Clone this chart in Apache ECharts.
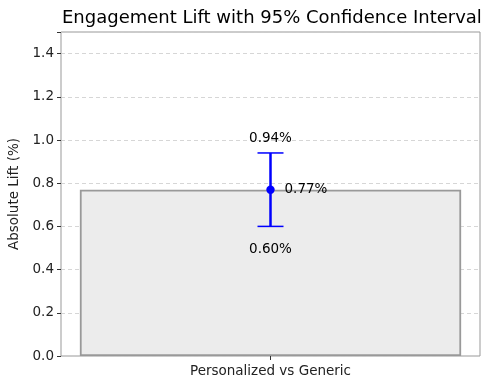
<!DOCTYPE html>
<html><head><meta charset="utf-8">
<script src="https://cdn.jsdelivr.net/npm/echarts@6/dist/echarts.min.js"></script>
<style>html,body{margin:0;padding:0;background:#fff}#c{width:490px;height:390px}</style>
</head><body><div id="c"></div>
<script>
const categories = ['Personalized vs Generic'];
const lift = [0.77];
const ciLow = [0.60];
const ciHigh = [0.94];
const yTicks = [0.0, 0.2, 0.4, 0.6, 0.8, 1.0, 1.2, 1.4];

const font = 'DejaVu Sans';
const chart = echarts.init(document.getElementById('c'));
const errData = categories.map((c, i) => [i, lift[i], ciLow[i], ciHigh[i]]);
chart.setOption({
  animation: false,
  title: {text: 'Engagement Lift with 95% Confidence Interval', left: 62, top: 9, padding: 0,
    textStyle: {fontFamily: font, fontSize: 18, fontWeight: 'normal', color: '#000'}},
  grid: {left: 61, right: 10, top: 32, bottom: 34, show: true, borderColor: '#999', borderWidth: 1,
    containLabel: false, outerBoundsMode: 'none'},
  xAxis: {type: 'category', data: categories,
    axisLine: {show: false}, axisTick: {show: true, alignWithLabel: true, length: 4, lineStyle: {color: '#333'}},
    axisLabel: {fontFamily: font, fontSize: 13.5, color: '#222', margin: 8}},
  yAxis: {type: 'value', min: 0, max: 1.5, interval: 0.2,
    name: 'Absolute Lift (%)', nameLocation: 'middle', nameGap: 37,
    nameTextStyle: {fontFamily: font, fontSize: 13.5, color: '#222'},
    axisLine: {show: false}, axisTick: {show: true, length: 4, lineStyle: {color: '#333'}},
    axisLabel: {fontFamily: font, fontSize: 13.5, color: '#222', margin: 7,
      formatter: v => (yTicks.some(t => Math.abs(t - v) < 1e-9) ? v.toFixed(1) : '')},
    splitLine: {show: true, lineStyle: {color: '#ccc', type: [4, 3], width: 0.8}}},
  series: [
    {type: 'bar', data: lift, barWidth: '91%',
      itemStyle: {color: '#ececec', borderColor: '#999', borderWidth: 1.8}},
    {type: 'custom', data: errData, z: 10,
      renderItem: function (params, api) {
        const x = api.value(0);
        const pm = api.coord([x, api.value(1)]);
        const pl = api.coord([x, api.value(2)]);
        const ph = api.coord([x, api.value(3)]);
        const cap = 13;
        const st = {stroke: '#0000ff', lineWidth: 2.5};
        const tf = {fontFamily: font, fontSize: 13.5, fill: '#000'};
        return {type: 'group', children: [
          {type: 'line', shape: {x1: pl[0], y1: pl[1], x2: ph[0], y2: ph[1]}, style: st},
          {type: 'line', shape: {x1: pl[0] - cap, y1: pl[1], x2: pl[0] + cap, y2: pl[1]}, style: {stroke: '#0000ff', lineWidth: 1.5}},
          {type: 'line', shape: {x1: ph[0] - cap, y1: ph[1], x2: ph[0] + cap, y2: ph[1]}, style: {stroke: '#0000ff', lineWidth: 1.5}},
          {type: 'circle', shape: {cx: pm[0], cy: pm[1], r: 4.2}, style: {fill: '#0000ff'}},
          {type: 'text', x: ph[0], y: ph[1] - 14, style: Object.assign({text: api.value(3).toFixed(2) + '%', align: 'center', verticalAlign: 'middle'}, tf)},
          {type: 'text', x: pl[0], y: pl[1] + 23, style: Object.assign({text: api.value(2).toFixed(2) + '%', align: 'center', verticalAlign: 'middle'}, tf)},
          {type: 'text', x: pm[0] + 14, y: pm[1], style: Object.assign({text: api.value(1).toFixed(2) + '%', align: 'left', verticalAlign: 'middle'}, tf)}
        ]};
      }}
  ]
});
</script></body></html>
